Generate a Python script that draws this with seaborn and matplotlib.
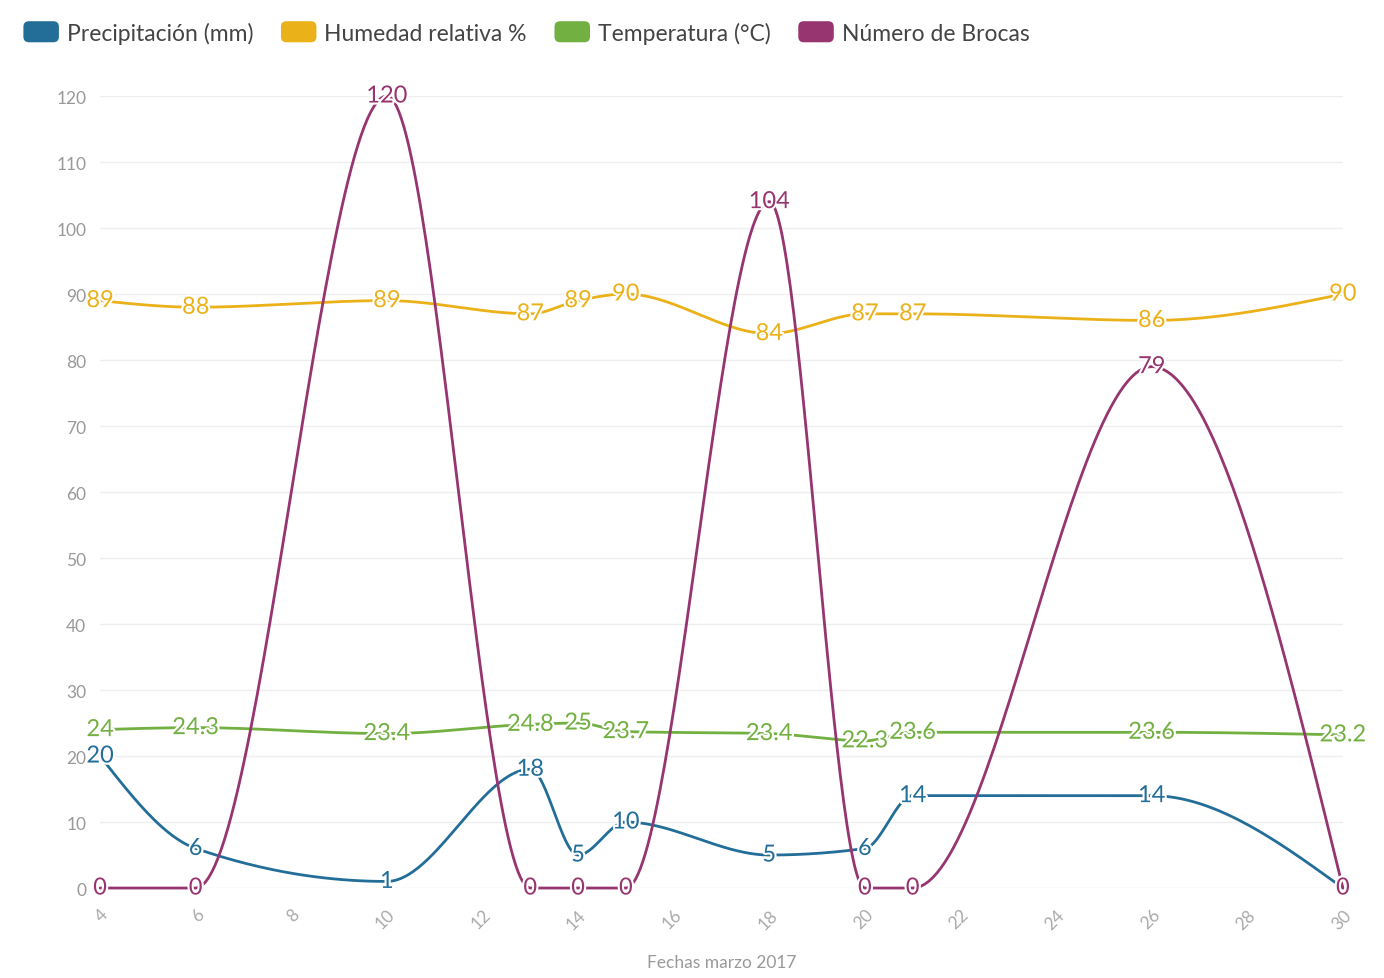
import numpy as np
import pandas as pd
import seaborn as sns
import matplotlib.pyplot as plt
import matplotlib.patheffects as pe
from matplotlib.patches import Patch, FancyBboxPatch
from matplotlib.legend_handler import HandlerPatch

# data
dias = [4, 6, 10, 13, 14, 15, 18, 20, 21, 26, 30]
precipitacion = [20, 6, 1, 18, 5, 10, 5, 6, 14, 14, 0]
humedad = [89, 88, 89, 87, 89, 90, 84, 87, 87, 86, 90]
temperatura = [24, 24.3, 23.4, 24.8, 25, 23.7, 23.4, 22.3, 23.6, 23.6, 23.2]
brocas = [0, 0, 120, 0, 0, 0, 104, 0, 0, 79, 0]

series_names = ["Precipitación (mm)", "Humedad relativa %", "Temperatura (°C)", "Número de Brocas"]
colors = ["#236e99", "#ebb119", "#73b042", "#963570"]
x_ticks = list(range(4, 31, 2))
y_ticks = list(range(0, 121, 10))


def monotone_x(x, y, n=60):
    # same idea as d3.curveMonotoneX
    x = np.asarray(x, float)
    y = np.asarray(y, float)
    k = len(x)
    h = np.diff(x)
    s = np.diff(y) / h
    t = np.zeros(k)
    for i in range(1, k - 1):
        p = (s[i - 1] * h[i] + s[i] * h[i - 1]) / (h[i - 1] + h[i])
        t[i] = (np.sign(s[i - 1]) + np.sign(s[i])) * min(abs(s[i - 1]), abs(s[i]), 0.5 * abs(p))
    t[0] = (3 * s[0] - t[1]) / 2
    t[-1] = (3 * s[-1] - t[-2]) / 2
    xs, ys = [], []
    for i in range(k - 1):
        u = np.linspace(0, 1, n)
        h00 = 2 * u**3 - 3 * u**2 + 1
        h10 = u**3 - 2 * u**2 + u
        h01 = -2 * u**3 + 3 * u**2
        h11 = u**3 - u**2
        xs.append(x[i] + u * h[i])
        ys.append(h00 * y[i] + h10 * h[i] * t[i] + h01 * y[i + 1] + h11 * h[i] * t[i + 1])
    return np.concatenate(xs), np.concatenate(ys)


class RoundBox(HandlerPatch):
    def create_artists(self, legend, orig_handle, xdescent, ydescent, width, height, fontsize, trans):
        p = FancyBboxPatch((-xdescent, -ydescent - 1), width, height + 2,
                           boxstyle="round,pad=0,rounding_size=4",
                           facecolor=orig_handle.get_facecolor(), edgecolor="none", transform=trans)
        return [p]


sns.set_style("white")
plt.rcParams['font.family'] = ['Lato', 'DejaVu Sans']

fig = plt.figure(figsize=(13.84, 9.79), dpi=100)
ax = fig.add_axes([0.0723, 0.0919, 0.898, 0.809])

all_series = [precipitacion, humedad, temperatura, brocas]

# curves
for name, vals, col in zip(series_names, all_series, colors):
    cx, cy = monotone_x(dias, vals)
    df = pd.DataFrame({"x": cx, "y": cy})
    sns.lineplot(data=df, x="x", y="y", ax=ax, color=col, linewidth=2.0,
                 sort=False, estimator=None, clip_on=False, zorder=3)

# data labels
for vals, col in zip(all_series, colors):
    for d, v in zip(dias, vals):
        txt = f"{v:g}"
        ax.text(d, v, txt, color=col, fontsize=17, ha="center", va="center", zorder=5,
                clip_on=False,
                path_effects=[pe.withStroke(linewidth=3, foreground="white")])

ax.set_xlim(4, 30)
ax.set_ylim(0, 120)
ax.set_xticks(x_ticks)
ax.set_xticklabels([str(v) for v in x_ticks], rotation=45, ha="right", va="top",
                   rotation_mode="anchor", color="#aaaaaa", fontsize=12.5)
ax.set_yticks(y_ticks)
ax.set_yticklabels([str(v) for v in y_ticks], color="#999999", fontsize=12.5)
ax.tick_params(axis="x", length=5, color="#e6e6e6", pad=8)
ax.tick_params(axis="y", length=0, pad=10)
ax.yaxis.grid(True, color="#eeeeee", linewidth=1)
ax.xaxis.grid(False)
for sp in ax.spines.values():
    sp.set_visible(False)
ax.set_xlabel("Fechas marzo 2017", color="#999999", fontsize=12.5, labelpad=16)
ax.set_ylabel("")

handles = [Patch(facecolor=c, edgecolor=c, label=n) for n, c in zip(series_names, colors)]
fig.legend(handles=handles, loc="upper left", bbox_to_anchor=(0.002, 0.998), ncol=4,
           frameon=False, fontsize=16.5, handlelength=1.55, handleheight=0.85,
           handletextpad=0.35, columnspacing=1.2, labelcolor="#444444",
           handler_map={Patch: RoundBox()})

fig.savefig("out.png", dpi=100)
